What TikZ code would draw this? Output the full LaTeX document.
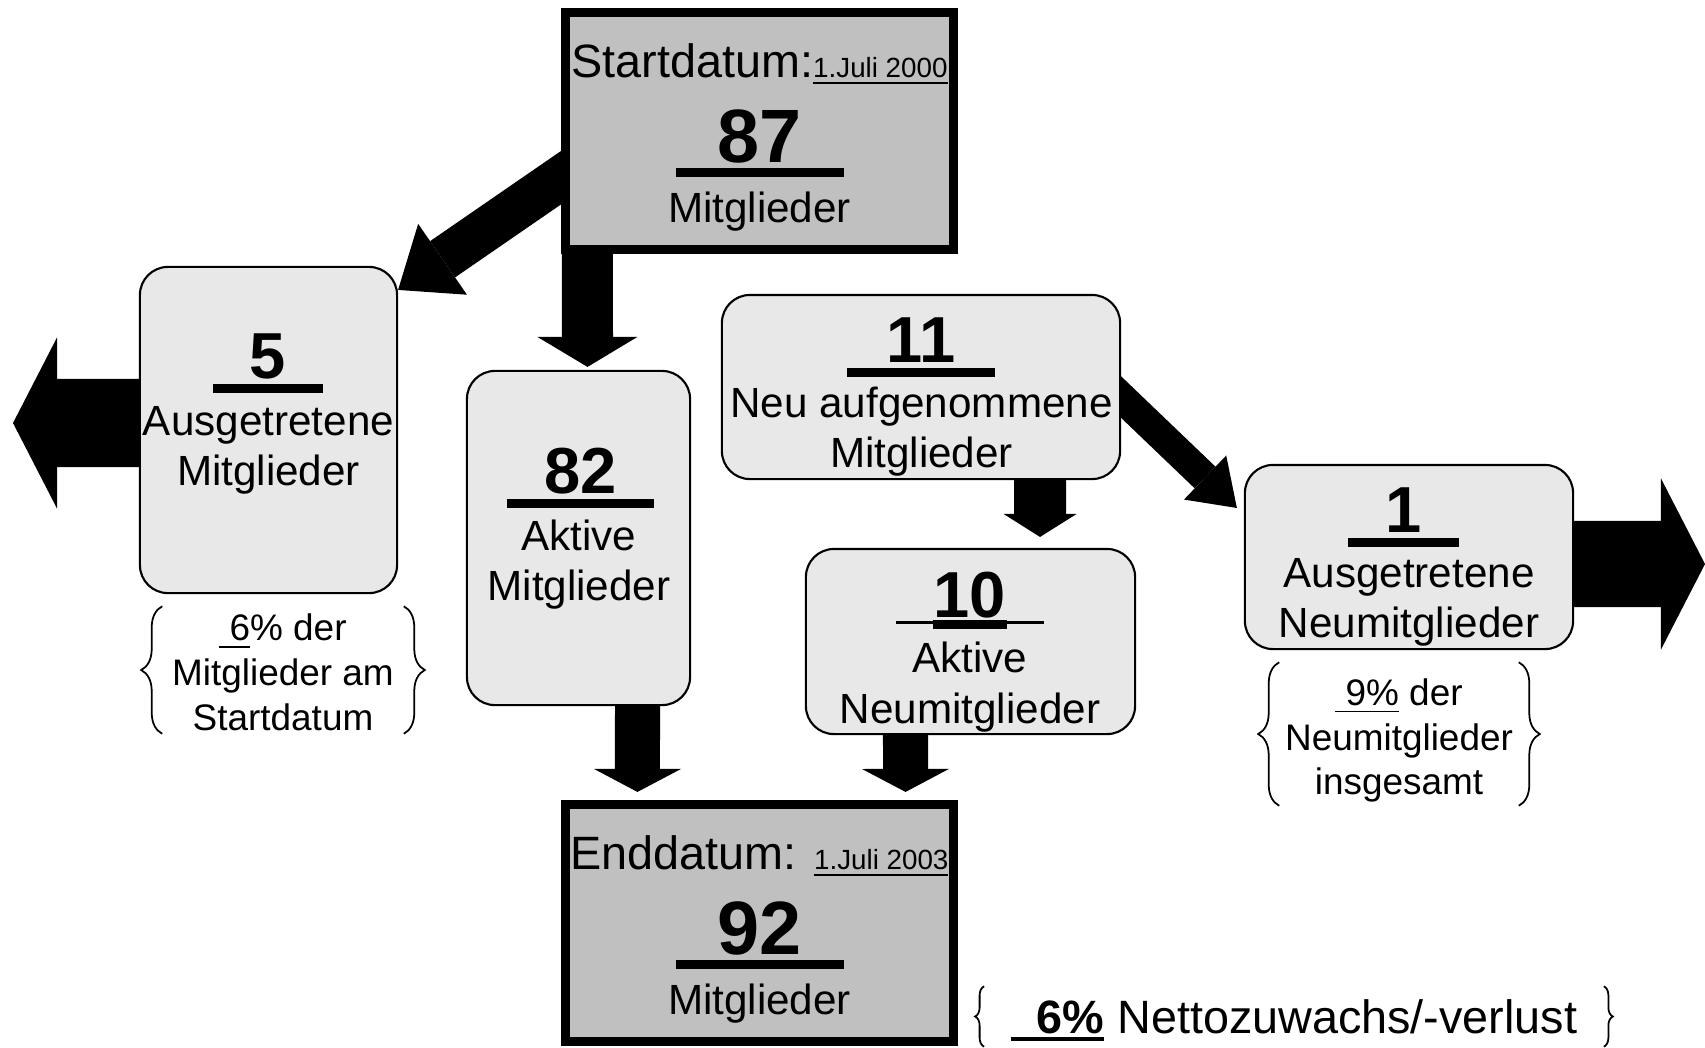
\documentclass[tikz,border=0pt]{standalone}
\usepackage{fontspec}
\setmainfont{Liberation Sans}
\usetikzlibrary{arrows.meta,decorations.pathreplacing}
\pgfdeclarelayer{hinten}
\pgfsetlayers{hinten,main}

\definecolor{datumgrau}{HTML}{C0C0C0}
\definecolor{boxgrau}{HTML}{E8E8E8}

\newcommand\datumschrift{\fontsize{7.9}{9}\selectfont}
% unterstrichener Text, Strichstaerke optional
\newcommand\unter[2][.45pt]{\setbox0\hbox{#2}\rlap{\raisebox{\dimexpr-1.7pt-#1/2\relax}[0pt][0pt]{\rule{\wd0}{#1}}}\box0\relax}
% Zahl mit dickem Balken darunter
\newcommand\zahl[2]{\setbox0\hbox to #2{\hss #1\hss}\rlap{\raisebox{-4.4pt}[0pt][0pt]{\rule{#2}{2.8pt}}}\box0\relax}
\newcommand\zahlzwei[3]{\setbox0\hbox to #3{\hss #1\hss}\rlap{\raisebox{-2pt}[0pt][0pt]{\rule{#3}{0.9pt}}}\rlap{\hbox to #3{\hss\raisebox{-3.4pt}[0pt][0pt]{\rule{#2}{2.5pt}}\hss}}\box0\relax}

\tikzset{
  datum/.style={draw, line width=2.6pt, fill=datumgrau, minimum width=3.88cm, minimum height=2.37cm, inner sep=0pt, outer sep=0pt},
  kasten/.style={draw, line width=0.6pt, fill=boxgrau, rounded corners=0.28cm, inner sep=0pt, outer sep=0pt},
  zeile/.style={anchor=base, inner sep=0pt, font=\fontsize{12}{14}\selectfont},
  kopf/.style={anchor=base, inner sep=0pt, font=\fontsize{13.3}{16}\selectfont},
  gross/.style={anchor=base, inner sep=0pt, font=\fontsize{21.5}{24}\selectfont\bfseries},
  mittel/.style={anchor=base, inner sep=0pt, font=\fontsize{18.5}{21}\selectfont\bfseries},
  anteil/.style={inner sep=0pt, align=center, font=\fontsize{10.5}{12.7}\selectfont},
  klammer/.style={decorate, decoration={brace, amplitude=#1}, line width=0.5pt},
  pfeil/.style n args={3}{line width=#1, -{Triangle[width=#2, length=#3, line width=0pt]}},
}

\begin{document}
\begin{tikzpicture}[x=0.01cm, y=-0.01cm]
  \useasboundingbox (0,0) rectangle (1705,1047);

  % Kaesten
  \node[datum] (start) at (759.5,131) {};
  \node[datum] (ende) at (759.5,923) {};
  \node[kasten, minimum width=2.57cm, minimum height=3.26cm] (aus) at (268.5,430) {};
  \node[kasten, minimum width=2.23cm, minimum height=3.34cm] (akt) at (578.5,538) {};
  \node[kasten, minimum width=3.98cm, minimum height=1.84cm] (neu) at (921,387) {};
  \node[kasten, minimum width=3.29cm, minimum height=1.85cm] (aktneu) at (970.5,641.5) {};
  \node[kasten, minimum width=3.28cm, minimum height=1.84cm] (ausneu) at (1409,557) {};

  \coordinate (links) at (13,423);
  \coordinate (rechts) at (1705,564);

  % Texte
  \node[kopf] (start-kopf) at (759.5,77) {Startdatum:\unter{\datumschrift 1.Juli 2000}};
  \node[gross] (start-zahl) at (760,162) {\zahl{87}{1.68cm}};
  \node[zeile] (start-text) at (759.5,222) {Mitglieder};

  \node[kopf] (ende-kopf) at (759.5,869) {Enddatum: \unter{\datumschrift 1.Juli 2003}};
  \node[gross] (ende-zahl) at (760,954) {\zahl{92}{1.68cm}};
  \node[zeile] (ende-text) at (759.5,1014) {Mitglieder};

  \node[mittel] (aus-zahl) at (268,378) {\zahl{5}{1.10cm}};
  \node[zeile] (aus-text1) at (268.5,435) {Ausgetretene};
  \node[zeile] (aus-text2) at (268.5,485) {Mitglieder};

  \node[mittel] (akt-zahl) at (580.5,493) {\zahl{82}{1.47cm}};
  \node[zeile] (akt-text1) at (579,550) {Aktive};
  \node[zeile] (akt-text2) at (579,600) {Mitglieder};

  \node[mittel] (neu-zahl) at (921,362) {\zahl{11}{1.48cm}};
  \node[zeile] (neu-text1) at (921.5,417) {Neu aufgenommene};
  \node[zeile] (neu-text2) at (921.5,467) {Mitglieder};

  \node[mittel] (aktneu-zahl) at (970,617) {\zahlzwei{10}{0.74cm}{1.48cm}};
  \node[zeile] (aktneu-text1) at (970,672) {Aktive};
  \node[zeile] (aktneu-text2) at (970,723) {Neumitglieder};

  \node[mittel] (ausneu-zahl) at (1403.5,532) {\zahl{1}{1.11cm}};
  \node[zeile] (ausneu-text1) at (1409,587) {Ausgetretene};
  \node[zeile] (ausneu-text2) at (1409,637) {Neumitglieder};

  % Anteile mit Klammern
  \node[anteil, minimum width=2.4cm, minimum height=1.26cm] (aus-anteil) at (283,670) {\rule{0pt}{8.9pt}\unter{\ 6}\% der\\Mitglieder am\\Startdatum};
  \node[anteil, minimum width=2.38cm, minimum height=1.42cm] (ausneu-anteil) at (1399,734) {\rule{0pt}{11.4pt}\unter{\ 9\%} der\\Neumitglieder\\insgesamt};
  \node[anteil, font=\fontsize{13.3}{16}\selectfont, minimum width=6.18cm, minimum height=0.59cm] (netto) at (1294,1016.5) {\unter[1.1pt]{\ \ \textbf{6\%}} Nettozuwachs/-verlust};

  \draw[klammer=0.21cm] (aus-anteil.south west) -- (aus-anteil.north west);
  \draw[klammer=0.21cm] (aus-anteil.north east) -- (aus-anteil.south east);
  \draw[klammer=0.21cm] (ausneu-anteil.south west) -- (ausneu-anteil.north west);
  \draw[klammer=0.21cm] (ausneu-anteil.north east) -- (ausneu-anteil.south east);
  \draw[klammer=0.09cm] (netto.south west) -- (netto.north west);
  \draw[klammer=0.09cm] (netto.north east) -- (netto.south east);

  % Pfeile hinter den Kaesten
  \begin{pgfonlayer}{hinten}
    \draw[pfeil={0.44cm}{0.86cm}{0.54cm}] ([xshift=0.445cm,yshift=-0.13cm]start.west) -- ([xshift=0.01cm,yshift=-0.23cm]aus.north east);
    \draw[pfeil={0.51cm}{1.0cm}{0.30cm}] ([xshift=-1.72cm,yshift=0.3cm]start.south) -- ([xshift=0.09cm,yshift=0.04cm]akt.north);
    \draw[pfeil={0.88cm}{1.71cm}{0.44cm}] ([xshift=0.3cm,yshift=0.07cm]aus.west) -- (links);
    \draw[pfeil={0.45cm}{0.87cm}{0.23cm}] ([xshift=0.59cm,yshift=0.15cm]akt.south) -- ([xshift=-1.22cm,yshift=0.125cm]ende.north);
    \draw[pfeil={0.52cm}{0.73cm}{0.23cm}] ([xshift=1.19cm,yshift=0.14cm]neu.south) -- ([xshift=0.695cm,yshift=0.12cm]aktneu.north);
    \draw[pfeil={0.45cm}{0.87cm}{0.23cm}] ([xshift=-0.65cm,yshift=0.14cm]aktneu.south) -- ([xshift=1.46cm,yshift=0.125cm]ende.north);
    \draw[pfeil={0.30cm}{0.61cm}{0.44cm}] ([xshift=-0.4cm,yshift=0.292cm]neu.east) -- ([xshift=-0.08cm,yshift=-0.43cm]ausneu.north west);
    \draw[pfeil={0.86cm}{1.71cm}{0.44cm}] ([xshift=-0.28cm,yshift=-0.07cm]ausneu.east) -- (rechts);
  \end{pgfonlayer}
\end{tikzpicture}
\end{document}
